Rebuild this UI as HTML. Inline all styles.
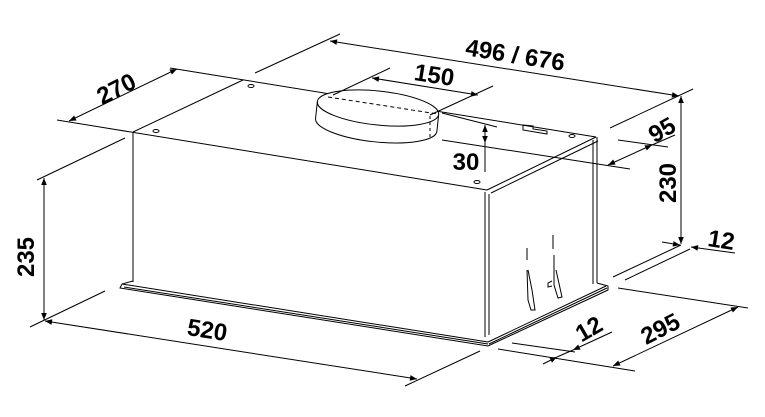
<!DOCTYPE html>
<html><head><meta charset="utf-8"><style>
html,body{margin:0;padding:0;background:#fff;}
svg{display:block;}
text{font-family:"Liberation Sans",sans-serif;font-weight:bold;font-size:24px;fill:#000;}
</style></head><body>
<svg width="765" height="417" viewBox="0 0 765 417" xmlns="http://www.w3.org/2000/svg">
<defs>
<marker id="a" viewBox="0 0 10 10" refX="10" refY="5" markerWidth="9" markerHeight="7" orient="auto-start-reverse" markerUnits="userSpaceOnUse"><path d="M0,1 L10,5 L0,9 z" fill="#000"/></marker>
</defs>
<g stroke="#000" stroke-width="1" fill="none">
<line x1="57" y1="120" x2="487" y2="190"/>
<line x1="170" y1="68" x2="596" y2="137"/>
<line x1="133" y1="132" x2="243" y2="80"/>
<line x1="487" y1="190" x2="596" y2="137"/>
<line x1="491" y1="193" x2="598" y2="141"/>
<line x1="133" y1="132" x2="133" y2="282"/>
<line x1="485" y1="192" x2="485" y2="337"/>
<line x1="489" y1="194" x2="489" y2="335"/>
<line x1="593" y1="140" x2="593" y2="284"/>
<line x1="597" y1="137" x2="597" y2="283"/>
<path d="M133,281 L122,284 L120,288 L488,346 L608,290 L608,286 L597,283"/>
<line x1="122" y1="284" x2="488" y2="342"/>
<line x1="124" y1="287" x2="488" y2="344"/>
<line x1="488" y1="342" x2="606" y2="286"/>
<line x1="489" y1="344" x2="607" y2="288"/>
<ellipse cx="156" cy="131" rx="3" ry="1.5"/>
<ellipse cx="251" cy="86" rx="3" ry="1.5"/>
<ellipse cx="477" cy="182" rx="3" ry="1.5"/>
<ellipse cx="572" cy="136" rx="3" ry="1.5"/>
<path d="M523,125 l10,1 l0,3 l14,2 l0,3 l-24,-4 z"/>
<g transform="rotate(6 378 108)">
<path d="M317,108 L317,125 A61,17 0 0 0 439,125 L439,108" fill="#fff"/>
<ellipse cx="378" cy="108" rx="61" ry="17" fill="#fff"/>
</g>
<line x1="328" y1="97" x2="438" y2="114" stroke-dasharray="4,3"/>
<line x1="430" y1="116" x2="430" y2="138" stroke-dasharray="3,3"/>
<line x1="527" y1="248" x2="527" y2="260"/><path d="M527,270 L528,300 L531,310 L535,310 L532,290 L528,270"/>
<line x1="553" y1="235" x2="553" y2="249"/><path d="M554,255 L554,285 L558,298 L562,297 L556,270"/>
<path d="M552,281 l-4,2 l0,4 l4,-1"/>
<line x1="255" y1="73" x2="340" y2="34"/>
<line x1="610" y1="128" x2="693" y2="89"/>
<line x1="330" y1="41" x2="679" y2="96" marker-start="url(#a)" marker-end="url(#a)"/>
<line x1="681" y1="96" x2="681" y2="244" marker-start="url(#a)" marker-end="url(#a)"/>
<line x1="69" y1="121" x2="177" y2="69" marker-start="url(#a)" marker-end="url(#a)"/>
<line x1="333" y1="95" x2="390" y2="68"/>
<line x1="430" y1="115" x2="493" y2="86"/>
<line x1="372" y1="78" x2="478" y2="95" marker-start="url(#a)" marker-end="url(#a)"/>
<line x1="442" y1="113" x2="497" y2="127"/>
<line x1="442" y1="140" x2="630" y2="169"/>
<line x1="485" y1="125" x2="485" y2="143" marker-start="url(#a)" marker-end="url(#a)"/>
<line x1="485" y1="143" x2="485" y2="172"/>
<line x1="618" y1="140" x2="668" y2="147"/>
<line x1="608" y1="165" x2="652" y2="145" marker-start="url(#a)" marker-end="url(#a)"/>
<line x1="652" y1="145" x2="675" y2="135"/>
<line x1="37" y1="180" x2="125" y2="138"/>
<line x1="44" y1="178" x2="44" y2="320" marker-start="url(#a)" marker-end="url(#a)"/>
<line x1="30" y1="327" x2="105" y2="291"/>
<line x1="405" y1="386" x2="480" y2="351"/>
<line x1="45" y1="321" x2="417" y2="379" marker-start="url(#a)" marker-end="url(#a)"/>
<line x1="512" y1="343" x2="575" y2="352"/>
<line x1="498" y1="349" x2="635" y2="371"/>
<line x1="543" y1="364" x2="557" y2="357" marker-end="url(#a)"/>
<line x1="612" y1="332" x2="573" y2="350" marker-end="url(#a)"/>
<line x1="557" y1="357" x2="573" y2="350"/>
<line x1="618" y1="288" x2="748" y2="308"/>
<line x1="613" y1="366" x2="738" y2="307" marker-start="url(#a)" marker-end="url(#a)"/>
<line x1="613" y1="277" x2="681" y2="245"/>
<line x1="625" y1="280" x2="690" y2="249"/>
<line x1="662" y1="242" x2="680" y2="245" marker-end="url(#a)"/>
<line x1="735" y1="253" x2="691" y2="247" marker-end="url(#a)"/>
</g>
<text transform="translate(514,63) rotate(9)" text-anchor="middle">496 / 676</text>
<text transform="translate(433,83) rotate(9)" text-anchor="middle">150</text>
<text transform="translate(120,96) rotate(-27)" text-anchor="middle">270</text>
<text transform="translate(676,183) rotate(-90)" text-anchor="middle">230</text>
<text transform="translate(34,257) rotate(-90)" text-anchor="middle">235</text>
<text x="466" y="170" text-anchor="middle">30</text>
<text transform="translate(666,137) rotate(-30)" text-anchor="middle">95</text>
<text transform="translate(206,338) rotate(9)" text-anchor="middle">520</text>
<text transform="translate(593,336) rotate(-30)" text-anchor="middle">12</text>
<text transform="translate(664,336) rotate(-27)" text-anchor="middle">295</text>
<text transform="translate(720,248) rotate(9)" text-anchor="middle">12</text>
</svg>
</body></html>
